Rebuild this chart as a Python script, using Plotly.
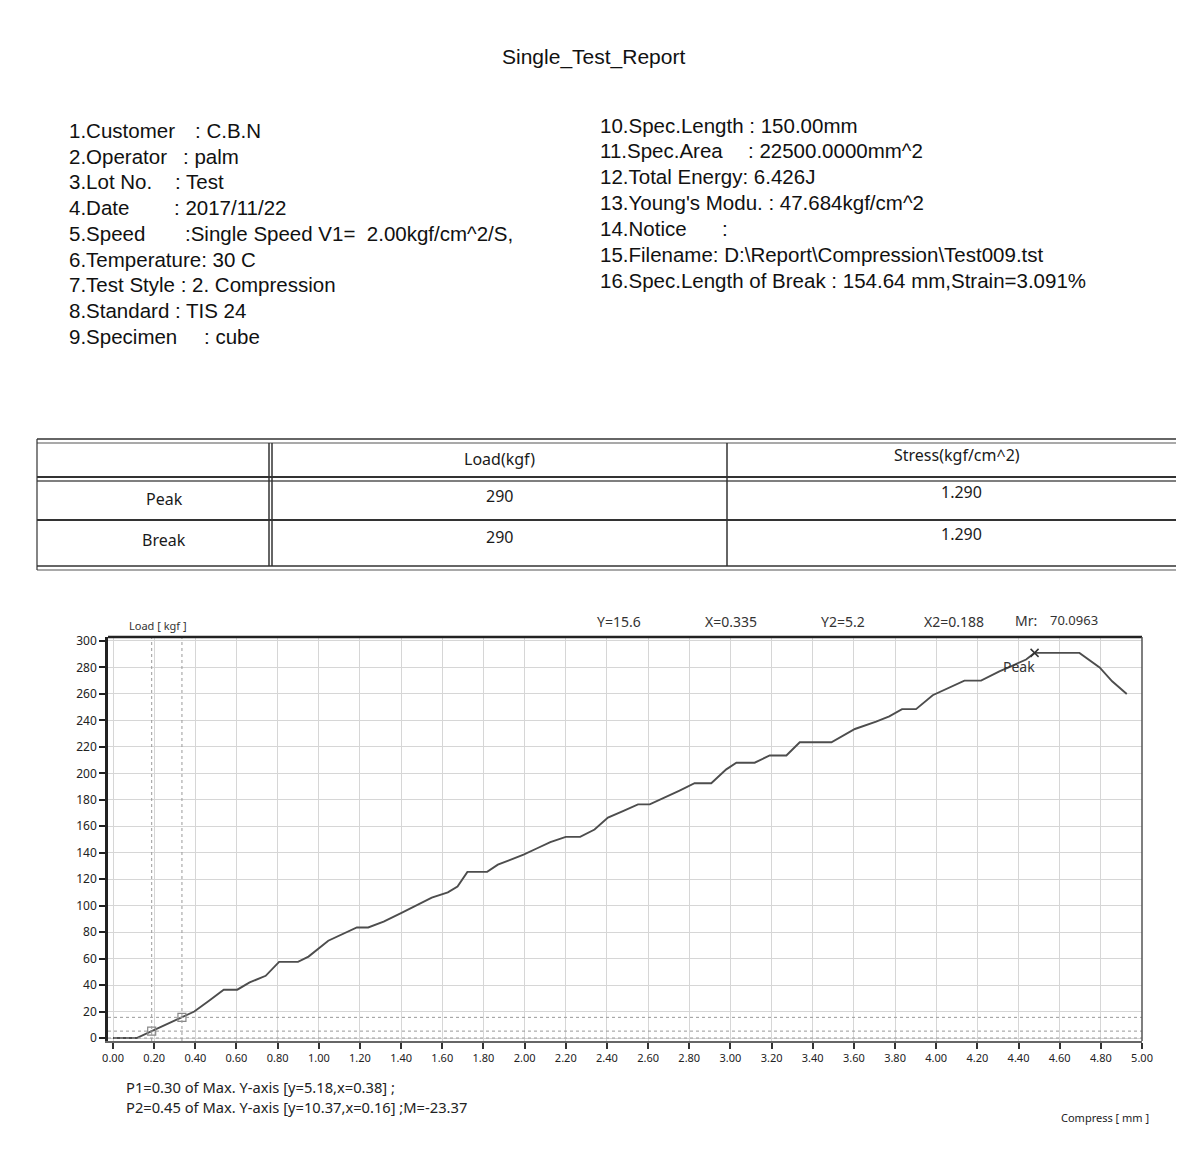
import plotly.graph_objects as go

# ---------------- data ----------------
report_title = "Single_Test_Report"

left_labels = ["1.Customer", "2.Operator", "3.Lot No.", "4.Date", "5.Speed",
               "6.Temperature: 30 C", "7.Test Style : 2. Compression",
               "8.Standard : TIS 24", "9.Specimen"]
left_values = [": C.B.N", ": palm", ": Test", ": 2017/11/22",
               ":Single Speed V1=\u00a0\u00a02.00kgf/cm^2/S,", "", "", "", ": cube"]

right_labels = ["10.Spec.Length : 150.00mm", "11.Spec.Area",
                "12.Total Energy: 6.426J", "13.Young's Modu. : 47.684kgf/cm^2",
                "14.Notice", "15.Filename: D:\\Report\\Compression\\Test009.tst",
                "16.Spec.Length of Break : 154.64 mm,Strain=3.091%"]
right_values = ["", ": 22500.0000mm^2", "", "", ":", "", ""]

table_columns = ["Load(kgf)", "Stress(kgf/cm^2)"]
table_rows = ["Peak", "Break"]
table_load = ["290", "290"]
table_stress = ["1.290", "1.290"]

compress_mm = [0.0, 0.115, 0.188, 0.335, 0.395, 0.465, 0.538, 0.604, 0.664, 0.742,
               0.807, 0.899, 0.95, 1.046, 1.133, 1.185, 1.24, 1.315, 1.402, 1.48,
               1.549, 1.627, 1.674, 1.722, 1.818, 1.87, 1.995, 2.056, 2.125, 2.2,
               2.27, 2.34, 2.405, 2.478, 2.551, 2.608, 2.68, 2.753, 2.826, 2.907,
               2.98, 3.029, 3.118, 3.191, 3.272, 3.337, 3.491, 3.605, 3.708, 3.772,
               3.834, 3.902, 3.983, 4.056, 4.137, 4.218, 4.259, 4.307, 4.38, 4.437,
               4.478, 4.696, 4.794, 4.855, 4.926]
load_kgf = [0, 0, 5.2, 15.6, 20, 28, 36.5, 36.5, 42, 47,
            57.5, 57.5, 61.5, 73.5, 79.5, 83.5, 83.5, 88, 94.5, 100.5,
            106, 110, 114.5, 125.5, 125.5, 131, 138.5, 143, 148, 152,
            152, 157.5, 166.5, 171.5, 176.5, 176.5, 181.5, 187, 192.5, 192.5,
            203, 208, 208, 213.5, 213.5, 223.5, 223.5, 233.5, 239, 243,
            248.5, 248.5, 259, 264.5, 270, 270, 273.5, 277, 282, 286,
            291, 291, 280, 269.5, 260]

cursor_x, cursor_y = 0.335, 15.6
cursor_x2, cursor_y2 = 0.188, 5.2
mr_value = "70.0963"
p_lines = ["P1=0.30 of Max. Y-axis [y=5.18,x=0.38] ;",
           "P2=0.45 of Max. Y-axis [y=10.37,x=0.16] ;M=-23.37"]
x_title = "Compress [ mm ]"
y_title = "Load [ kgf ]"

# ---------------- layout helpers ----------------
# page body has an 8px margin, so the figure is 16px smaller than the window
OFF = 8
W, H = 1184 - 2 * OFF, 1158 - 2 * OFF
PL, PR, PT, PB = 108, 1142, 637, 1041          # plot area in window pixels
ML, MR, MT, MB = PL - OFF, W - (PR - OFF), PT - OFF, H - (PB - OFF)
PW = PR - PL
PH = PB - PT


def px(xp):
    return (xp - PL) / PW


def py(yp):
    return (PB - yp) / PH


ARIAL = "Liberation Sans, Arial, sans-serif"
SEGOE = "Noto Sans, Open Sans, sans-serif"

fig = go.Figure()

fig.add_trace(go.Scatter(x=compress_mm, y=load_kgf, mode="lines",
                         line=dict(color="#4d4d4d", width=1.9), hoverinfo="skip"))
fig.add_trace(go.Scatter(x=[cursor_x2, cursor_x], y=[cursor_y2, cursor_y], mode="markers",
                         marker=dict(symbol="square-open", size=8, color="#888888",
                                     line=dict(width=1.2))))
ipk = load_kgf.index(max(load_kgf))
fig.add_trace(go.Scatter(x=[compress_mm[ipk]], y=[load_kgf[ipk]], mode="markers",
                         marker=dict(symbol="x-thin-open", size=8, color="#333333",
                                     line=dict(width=1.5, color="#333333"))))

ann = []
shapes = []

# title
ann.append(dict(text=report_title, x=px(593), y=py(57), xref="paper", yref="paper",
                showarrow=False, xanchor="center", yanchor="middle",
                font=dict(family=ARIAL, size=21, color="#111")))

left_y = [130, 156, 181.7, 207.7, 233.3, 259.3, 285, 310.7, 336.7]
left_vx = [193, 181, 173, 172, 183, None, None, None, 201.5]
for lab, val, yy, vx in zip(left_labels, left_values, left_y, left_vx):
    ann.append(dict(text=lab, x=px(67), y=py(yy), xref="paper", yref="paper",
                    showarrow=False, xanchor="left", yanchor="middle",
                    font=dict(family=ARIAL, size=20.5, color="#111")))
    if val:
        ann.append(dict(text=val, x=px(vx), y=py(yy), xref="paper", yref="paper",
                        showarrow=False, xanchor="left", yanchor="middle",
                        font=dict(family=ARIAL, size=20.5, color="#111")))

right_y = [125, 150.7, 176.7, 202.7, 228.3, 254, 280]
right_vx = [None, 746, None, None, 720, None, None]
for lab, val, yy, vx in zip(right_labels, right_values, right_y, right_vx):
    ann.append(dict(text=lab, x=px(598), y=py(yy), xref="paper", yref="paper",
                    showarrow=False, xanchor="left", yanchor="middle",
                    font=dict(family=ARIAL, size=20.5, color="#111")))
    if val:
        ann.append(dict(text=val, x=px(vx), y=py(yy), xref="paper", yref="paper",
                        showarrow=False, xanchor="left", yanchor="middle",
                        font=dict(family=ARIAL, size=20.5, color="#111")))

# ---------------- table ----------------
def hline(y, x0, x1, w=1.5, c="#333"):
    shapes.append(dict(type="line", xref="paper", yref="paper", x0=px(x0), x1=px(x1),
                       y0=py(y), y1=py(y), line=dict(color=c, width=w)))


def vline(x, y0, y1, w=1.5, c="#333"):
    shapes.append(dict(type="line", xref="paper", yref="paper", x0=px(x), x1=px(x),
                       y0=py(y0), y1=py(y1), line=dict(color=c, width=w)))


TL, TR = 37, 1182
hline(439, TL, TR, 1.5)
hline(443, TL, TR, 1.2, "#555")
hline(477, TL, TR, 2)
hline(481, TL, TR, 1.5, "#555")
hline(520, TL, TR, 2)
hline(566, TL, TR, 1.5)
hline(570, TL, TR, 1.2, "#555")
vline(TL, 439, 570, 1.2)
vline(269, 443, 566, 1.5)
vline(272, 443, 566, 1.5)
vline(727, 443, 566, 1.5)
vline(TR, 439, 570, 1.2)

col_x = [499, 957]
head_y = [459, 455]
for cx, hy, t in zip(col_x, head_y, table_columns):
    ann.append(dict(text=t, x=px(cx), y=py(hy), xref="paper", yref="paper",
                    showarrow=False, xanchor="center", yanchor="middle",
                    font=dict(family=SEGOE, size=16, color="#1a1a1a")))
row_y = [[499, 496, 492], [540, 537, 534]]
for rlab, lv, sv, ys in zip(table_rows, table_load, table_stress, row_y):
    for cx, t, yy in zip([164, col_x[0], 961], [rlab, lv, sv], ys):
        ann.append(dict(text=t, x=px(cx), y=py(yy), xref="paper", yref="paper",
                        showarrow=False, xanchor="center", yanchor="middle",
                        font=dict(family=SEGOE, size=16, color="#1a1a1a")))

# ---------------- chart decorations ----------------
ann.append(dict(text=y_title, x=px(158), y=py(625), xref="paper", yref="paper",
                showarrow=False, xanchor="center", yanchor="middle",
                font=dict(family=SEGOE, size=11, color="#333")))
cursor_texts = [("Y=%s" % cursor_y, 619), ("X=%s" % cursor_x, 731),
                ("Y2=%s" % cursor_y2, 843), ("X2=%s" % cursor_x2, 954)]
for t, cx in cursor_texts:
    ann.append(dict(text=t, x=px(cx), y=py(621), xref="paper", yref="paper",
                    showarrow=False, xanchor="center", yanchor="middle",
                    font=dict(family=SEGOE, size=14, color="#333")))
ann.append(dict(text="Mr:", x=px(1013), y=py(620), xref="paper", yref="paper",
                showarrow=False, xanchor="left", yanchor="middle",
                font=dict(family=SEGOE, size=14, color="#333")))
ann.append(dict(text=mr_value, x=px(1048), y=py(620), xref="paper", yref="paper",
                showarrow=False, xanchor="left", yanchor="middle",
                font=dict(family=SEGOE, size=13, color="#333")))
ann.append(dict(text="Peak", x=compress_mm[ipk], y=load_kgf[ipk], xref="x", yref="y",
                showarrow=False, xanchor="center", yanchor="middle", xshift=-16, yshift=-14,
                font=dict(family=SEGOE, size=14, color="#333")))
for t, yy in zip(p_lines, [1086.5, 1106.5]):
    ann.append(dict(text=t, x=px(124), y=py(yy), xref="paper", yref="paper",
                    showarrow=False, xanchor="left", yanchor="middle",
                    font=dict(family=SEGOE, size=14.7, color="#222")))
ann.append(dict(text=x_title, x=px(1151), y=py(1117), xref="paper", yref="paper",
                showarrow=False, xanchor="right", yanchor="middle",
                font=dict(family=SEGOE, size=11, color="#222")))

# cursor guide lines
for xv in [cursor_x2, cursor_x]:
    shapes.append(dict(type="line", xref="x", yref="paper", x0=xv, x1=xv, y0=0, y1=1,
                       line=dict(color="#999", width=1, dash="dot")))
for yv in [cursor_y, cursor_y2, 0]:
    shapes.append(dict(type="line", xref="paper", yref="y", x0=0, x1=1, y0=yv, y1=yv,
                       line=dict(color="#999", width=1, dash="dot")))
# frame top/right
shapes.append(dict(type="line", xref="paper", yref="paper", x0=0, x1=1, y0=1, y1=1,
                   line=dict(color="#222", width=2.5)))
shapes.append(dict(type="line", xref="paper", yref="paper", x0=1, x1=1, y0=0, y1=1,
                   line=dict(color="#555", width=1.5)))

fig.update_layout(
    width=W, height=H, margin=dict(l=ML, r=MR, t=MT, b=MB),
    paper_bgcolor="white", plot_bgcolor="white", showlegend=False,
    annotations=ann, shapes=shapes,
    xaxis=dict(range=[-0.0243, 5.0], tick0=0, dtick=0.2, tickformat=".2f",
               showgrid=True, gridcolor="#d6d6d6", gridwidth=1, zeroline=False,
               showline=True, linecolor="#666", linewidth=1.5,
               ticks="outside", ticklen=6, tickwidth=1.5, tickcolor="#333",
               tickfont=dict(family=SEGOE, size=11, color="#222")),
    yaxis=dict(range=[-2.27, 303.0], tick0=0, dtick=20,
               showgrid=True, gridcolor="#d6d6d6", gridwidth=1, zeroline=False,
               showline=True, linecolor="#222", linewidth=2.5,
               ticks="outside", ticklen=6, tickwidth=2, tickcolor="#222",
               tickfont=dict(family=SEGOE, size=12, color="#222")),
)

fig.write_html("out.html")
